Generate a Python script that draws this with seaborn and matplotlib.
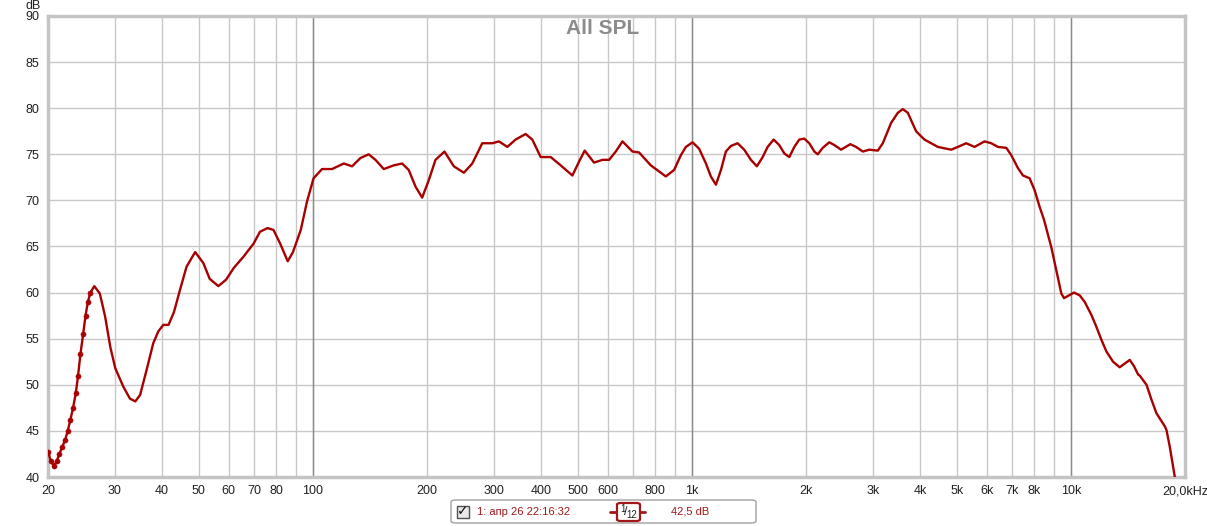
import matplotlib
matplotlib.use("Agg")
import matplotlib.pyplot as plt
from matplotlib.patches import FancyBboxPatch, Rectangle
import seaborn as sns
import pandas as pd

# Messpunkte (Frequenz in Hz, Pegel in dB)
dot_freq = [20.04, 20.33, 20.74, 21.08, 21.42, 21.78, 22.18, 22.55, 22.91,
            23.29, 23.68, 24.01, 24.35, 24.76, 25.12, 25.49, 25.87]
dot_db = [42.7, 41.7, 41.2, 41.7, 42.5, 43.2, 44.0, 45.0, 46.2,
          47.5, 49.1, 51.0, 53.3, 55.5, 57.5, 59.0, 60.0]

curve_freq = [26.5, 27.4, 28.3, 29.2, 30.1, 31.6, 32.9, 34.0, 35.0, 36.4,
              37.9, 39.1, 40.3, 41.6, 43.0, 44.6, 46.4, 48.9, 51.4, 53.4,
              56.3, 59.0, 61.9, 65.6, 69.7, 72.5, 75.9, 78.7, 82.0, 85.8,
              88.6, 92.9, 96.5, 100.4, 105.7, 112.3, 120.6, 126.9, 133.5, 140.4,
              146.2, 153.8, 163.4, 172.0, 179.0, 186.5, 194.2, 202.2, 210.6, 222.4,
              235.4, 250.2, 263.3, 279.8, 297.5, 309.7, 325.8, 342.6, 364.1, 379.2,
              399, 424, 450.6, 483.8, 503.6, 521.4, 551.8, 580.8, 604.6, 629.6,
              655.8, 696.8, 725.4, 779, 853.4, 897.4, 935, 964, 1004, 1045,
              1089, 1122, 1157, 1193, 1229, 1267, 1320, 1374, 1431, 1484,
              1537, 1584, 1643, 1700, 1753, 1807, 1863, 1920, 1979, 2040,
              2104, 2148, 2214, 2304, 2376, 2475, 2618, 2711, 2824, 2939,
              3094, 3189, 3354, 3494, 3602, 3712, 3904, 4106, 4457, 4832,
              5032, 5292, 5567, 5917, 6163, 6420, 6754, 6961, 7250, 7474,
              7780, 8022, 8269, 8492, 8880, 9434, 9590, 10190, 10550, 10870,
              11320, 11670, 12030, 12410, 12920, 13450, 14300, 14680, 15050, 15190,
              15830, 16310, 16820, 17690, 17870, 18230, 18800]
curve_db = [60.7, 59.9, 57.4, 54.1, 51.8, 49.8, 48.5, 48.2, 48.9, 51.6,
            54.5, 55.8, 56.5, 56.5, 57.9, 60.3, 62.8, 64.4, 63.2, 61.5,
            60.7, 61.4, 62.7, 63.9, 65.3, 66.6, 67.0, 66.8, 65.3, 63.4,
            64.4, 66.8, 69.9, 72.4, 73.4, 73.4, 74.0, 73.7, 74.6, 75.0,
            74.4, 73.4, 73.8, 74.0, 73.3, 71.5, 70.3, 72.2, 74.4, 75.3,
            73.7, 73.0, 74.0, 76.2, 76.2, 76.4, 75.8, 76.6, 77.2, 76.6,
            74.7, 74.7, 73.8, 72.7, 74.2, 75.4, 74.1, 74.4, 74.4, 75.3,
            76.4, 75.3, 75.2, 73.8, 72.6, 73.3, 74.9, 75.8, 76.3, 75.6,
            74.0, 72.6, 71.7, 73.3, 75.3, 75.9, 76.2, 75.5, 74.4, 73.7,
            74.7, 75.8, 76.6, 76.0, 75.1, 74.7, 75.8, 76.6, 76.7, 76.2,
            75.3, 75.0, 75.7, 76.3, 76.0, 75.5, 76.1, 75.8, 75.3, 75.5,
            75.4, 76.2, 78.4, 79.5, 79.9, 79.5, 77.5, 76.6, 75.8, 75.5,
            75.8, 76.2, 75.8, 76.4, 76.2, 75.8, 75.7, 74.9, 73.5, 72.7,
            72.4, 71.1, 69.3, 67.9, 64.9, 59.9, 59.4, 60.0, 59.7, 59.0,
            57.6, 56.3, 54.9, 53.6, 52.5, 51.9, 52.7, 52.0, 51.1, 51.0,
            50.0, 48.4, 46.9, 45.5, 45.1, 43.3, 40.0]

grid_freq = [20, 30, 40, 50, 60, 70, 80, 90, 100, 200, 300, 400, 500, 600, 700,
             800, 900, 1000, 2000, 3000, 4000, 5000, 6000, 7000, 8000, 9000,
             10000, 20000]
grid_labels = ['20', '30', '40', '50', '60', '70', '80', '', '100', '200', '300',
               '400', '500', '600', '', '800', '', '1k', '2k', '3k', '4k', '5k',
               '6k', '7k', '8k', '', '10k', '20,0kHz']
db_ticks = [40, 45, 50, 55, 60, 65, 70, 75, 80, 85, 90]

df = pd.DataFrame({'freq': dot_freq + curve_freq, 'spl': dot_db + curve_db})
dots = pd.DataFrame({'freq': dot_freq, 'spl': dot_db})

sns.set_style("white")
plt.rcParams['font.family'] = ['Liberation Sans', 'DejaVu Sans']

W, H = 1207, 526
fig = plt.figure(figsize=(W / 100, H / 100), dpi=100)
ax = fig.add_axes([48 / W, 49 / H, (1185 - 48) / W, (477 - 16) / H])

line_col = '#a80000'
sns.lineplot(data=df, x='freq', y='spl', ax=ax, color=line_col, linewidth=1.7,
             sort=True, zorder=5)
sns.scatterplot(data=dots, x='freq', y='spl', ax=ax, color=line_col, s=14,
                edgecolor=line_col, zorder=6)

ax.set_xscale('log')
ax.set_xlim(20, 20000)
ax.set_ylim(40, 90)
ax.set_xticks(grid_freq)
ax.set_xticklabels(grid_labels)
ax.xaxis.set_minor_locator(matplotlib.ticker.NullLocator())
ax.set_yticks(db_ticks)
ax.set_yticklabels([str(v) for v in db_ticks])
ax.tick_params(axis='both', length=0, labelsize=9, colors='#202020')
ax.tick_params(axis='x', pad=6)
ax.tick_params(axis='y', pad=6)
ax.grid(True, color='#c8c8c8', linewidth=1.0)
for f in [100, 1000, 10000]:
    ax.axvline(f, color='#8a8a8a', linewidth=1.0, zorder=1)
ax.set_xlabel('')
ax.set_ylabel('')
for s in ax.spines.values():
    s.set_color('#c4c4c4')
    s.set_linewidth(2.5)

ax.text((603 - 48) / 1137, 0.994, 'All SPL', transform=ax.transAxes,
        ha='center', va='top', fontsize=15, fontweight='bold', color='#8c8c8c')
fig.text(33 / W, 1 - 6 / H, 'dB', ha='center', va='center', fontsize=9,
         color='#202020')

# Legende unten
def fx(x):
    return x / W

def fy(y):
    return 1 - y / H

leg_col = '#a01818'
fig.patches.append(FancyBboxPatch((fx(451), fy(523)), fx(305), 23 / H,
                                  boxstyle='round,pad=0,rounding_size=0.004',
                                  transform=fig.transFigure, facecolor='white',
                                  edgecolor='#a0a0a0', linewidth=1.0, zorder=1))
fig.patches.append(Rectangle((fx(457), fy(518)), fx(12), 12 / H,
                             transform=fig.transFigure, facecolor='#e8e8e8',
                             edgecolor='#505050', linewidth=1.0, zorder=2))
fig.text(fx(463), fy(511.5), '✓', ha='center', va='center', fontsize=10,
         fontweight='bold', color='#101010', family=['DejaVu Sans'], zorder=5)
fig.text(fx(477), fy(512), '1: апр 26 22:16:32', ha='left', va='center',
         fontsize=8, color=leg_col, zorder=5)
fig.lines.append(plt.Line2D([fx(610), fx(645)], [fy(512), fy(512)],
                            transform=fig.transFigure, color=leg_col,
                            linewidth=2, zorder=2))
fig.patches.append(FancyBboxPatch((fx(617), fy(521)), fx(23), 18 / H,
                                  boxstyle='round,pad=0,rounding_size=0.003',
                                  transform=fig.transFigure, facecolor='white',
                                  edgecolor=leg_col, linewidth=1.6, zorder=3))
fig.text(fx(623), fy(509), '1', ha='center', va='center', fontsize=7,
         color='#202020', zorder=5)
fig.text(fx(626), fy(512), '/', ha='center', va='center', fontsize=9,
         color='#202020', zorder=5)
fig.text(fx(632), fy(515), '12', ha='center', va='center', fontsize=7,
         color='#202020', zorder=5)
fig.text(fx(671), fy(512), '42,5 dB', ha='left', va='center', fontsize=8,
         color=leg_col, zorder=5)

fig.savefig('out.png', dpi=100)
